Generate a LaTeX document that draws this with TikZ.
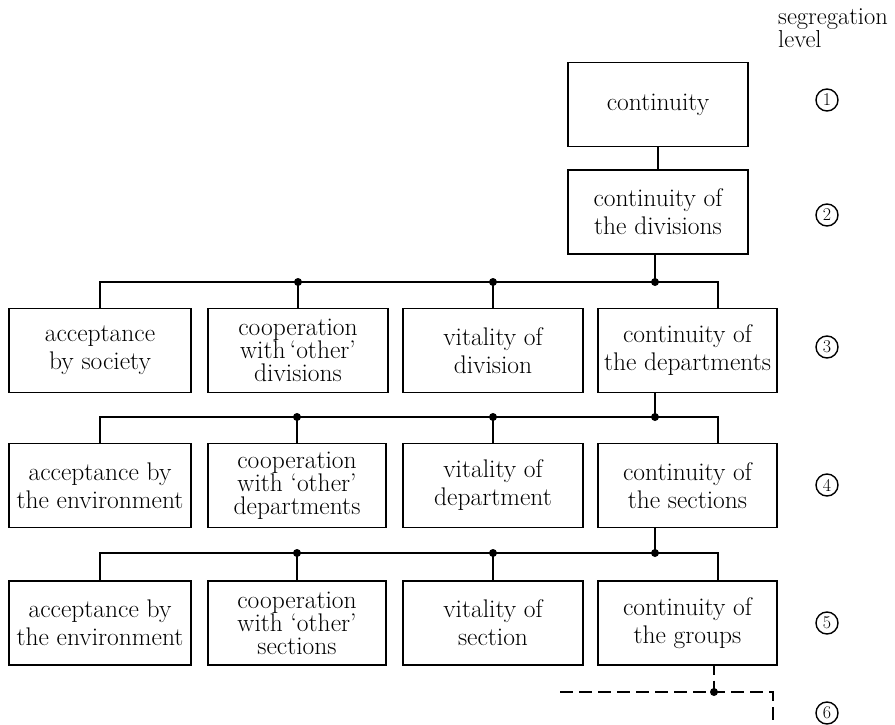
\documentclass[tikz,border=0pt]{standalone}
\usetikzlibrary{calc}
\begin{document}
\begin{tikzpicture}[x=1pt,y=-1pt,
  box/.style={draw, line width=1.3pt, minimum height=84pt, align=center,
    inner sep=0pt, font=\fontsize{25.5}{28}\selectfont},
  tri/.style={font=\fontsize{25.5}{23}\selectfont},
  wire/.style={line width=1.2pt},
  dashwire/.style={line width=1.2pt, dash pattern=on 13pt off 6pt},
  junction/.style={circle, fill=black, inner sep=0pt, minimum size=8pt},
  levelno/.style={circle, draw, line width=1.4pt, inner sep=0pt, minimum size=22pt,
    font=\fontsize{18}{18}\selectfont},
  caption/.style={anchor=base west, inner sep=0pt, font=\fontsize{24.5}{24.5}\selectfont}]
\useasboundingbox (0,0) rectangle (895,725);

% heading of the level column
\node[caption] (hd1) at (778,25) {segregation};
\node[caption] (hd2) at (778,48) {level};

% level 1 and 2
\node[box, minimum width=180pt] (l1) at (658,104.5) {continuity};
\node[box, minimum width=180pt] (l2) at (658,212) {continuity of\\the divisions};

% level 3
\node[box, minimum width=182pt] (a3) at (100,350.5) {acceptance\\by society};
\node[box, tri, minimum width=180pt] (b3) at (298,350.5) {cooperation\\with\,`other'\\divisions};
\node[box, minimum width=180pt] (c3) at (493,350.5) {vitality of\\division};
\node[box, minimum width=179pt] (d3) at (687.5,350.5) {continuity of\\the departments};

% level 4
\node[box, minimum width=182pt] (a4) at (100,485.5) {acceptance by\\the environment};
\node[box, tri, minimum width=178pt] (b4) at (297,485.5) {cooperation\\with `other'\\departments};
\node[box, minimum width=180pt] (c4) at (493,485.5) {vitality of\\department};
\node[box, minimum width=179pt] (d4) at (687.5,485.5) {continuity of\\the sections};

% level 5
\node[box, minimum width=182pt] (a5) at (100,623) {acceptance by\\the environment};
\node[box, tri, minimum width=178pt] (b5) at (297,623) {cooperation\\with `other'\\sections};
\node[box, minimum width=180pt] (c5) at (493,623) {vitality of\\section};
\node[box, minimum width=179pt] (d5) at (687.5,623) {continuity of\\the groups};

% level numbers
\node[levelno] (n1) at (827,100) {1};
\node[levelno] (n2) at (827,215) {2};
\node[levelno] (n3) at (827,347) {3};
\node[levelno] (n4) at (827,485) {4};
\node[levelno] (n5) at (827,623) {5};
\node[levelno] (n6) at (827,713) {6};

% bus junctions
\coordinate (j3) at (655,282);
\coordinate (j4) at (655,417);
\coordinate (j5) at (655,553);
\coordinate (j6) at (714,692);
\coordinate (e6l) at (560,692);
\coordinate (e6d) at (773,725);

% level 1 to level 2
\draw[wire] (l1) -- (l2);

% level 2 to level 3
\draw[wire] (l2.south -| j3) -- (j3);
\draw[wire] (a3.north) |- (j3) -| ([xshift=30.5pt]d3.north);
\draw[wire] (b3.north) -- (b3.north |- j3);
\draw[wire] (c3.north) -- (c3.north |- j3);
\node[junction] (k3a) at (b3.north |- j3) {};
\node[junction] (k3b) at (c3.north |- j3) {};
\node[junction] (k3c) at (j3) {};

% level 3 to level 4
\draw[wire] (d3.south -| j4) -- (j4);
\draw[wire] (a4.north) |- (j4) -| ([xshift=30.5pt]d4.north);
\draw[wire] (b4.north) -- (b4.north |- j4);
\draw[wire] (c4.north) -- (c4.north |- j4);
\node[junction] (k4a) at (b4.north |- j4) {};
\node[junction] (k4b) at (c4.north |- j4) {};
\node[junction] (k4c) at (j4) {};

% level 4 to level 5
\draw[wire] (d4.south -| j5) -- (j5);
\draw[wire] (a5.north) |- (j5) -| ([xshift=30.5pt]d5.north);
\draw[wire] (b5.north) -- (b5.north |- j5);
\draw[wire] (c5.north) -- (c5.north |- j5);
\node[junction] (k5a) at (b5.north |- j5) {};
\node[junction] (k5b) at (c5.north |- j5) {};
\node[junction] (k5c) at (j5) {};

% level 5 to level 6 (continued)
\draw[dashwire, dash pattern=on 9pt off 6pt] (d5.south -| j6) -- (j6);
\draw[dashwire] (e6l) -- (j6) -| (e6d);
\node[junction] (k6) at (j6) {};
\end{tikzpicture}
\end{document}
